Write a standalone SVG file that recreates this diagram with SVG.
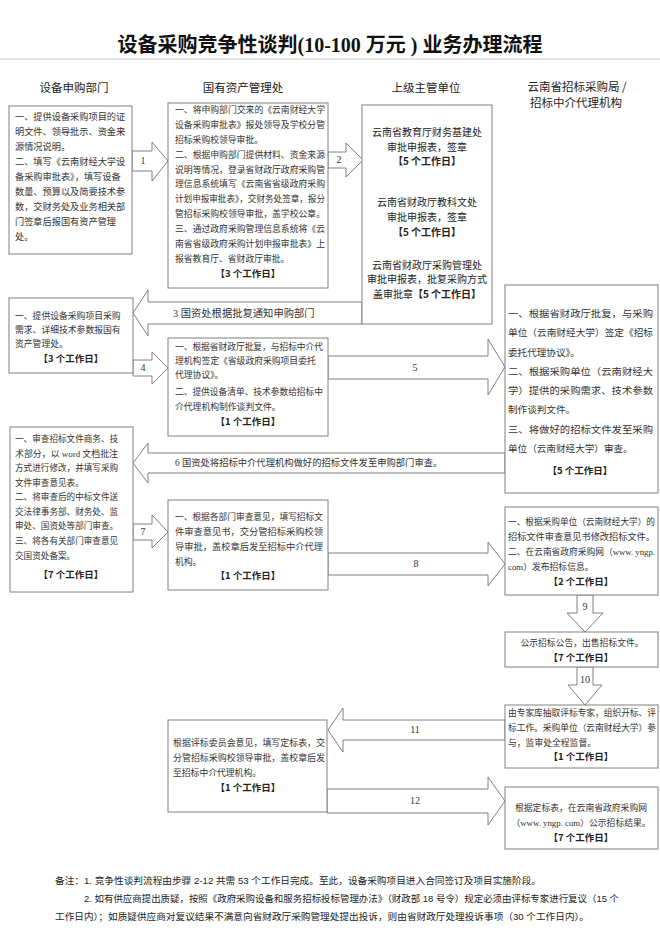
<svg xmlns="http://www.w3.org/2000/svg" width="660" height="943" viewBox="0 0 660 943">
<style>
.box{fill:#fff;stroke:#808080;stroke-width:1}
.arr{fill:#fff;stroke:#808080;stroke-width:1}
.t{font-family:"Liberation Serif","Noto Sans CJK SC",serif;font-size:8.8px;fill:#333}
.tl{font-family:"Liberation Serif","Noto Sans CJK SC",serif;font-size:9.2px;fill:#333}
.t5{font-family:"Liberation Serif","Noto Sans CJK SC",serif;font-size:8.8px;fill:#333}
.t7{font-family:"Liberation Serif","Noto Sans CJK SC",serif;font-size:8.6px;fill:#333}
.tr{font-family:"Liberation Serif","Noto Sans CJK SC",serif;font-size:9.6px;fill:#333}
.lab3{font-family:"Liberation Serif","Noto Sans CJK SC",serif;font-size:10.3px;fill:#333}
.lab6{font-family:"Liberation Serif","Noto Sans CJK SC",serif;font-size:9.3px;fill:#333}
.d{font-family:"Noto Sans CJK SC",sans-serif;font-weight:bold;font-size:9.5px;fill:#222;text-anchor:middle}
.h{font-family:"Noto Sans CJK SC",sans-serif;font-size:11.5px;fill:#222;text-anchor:middle}
.s{font-family:"Noto Sans CJK SC",sans-serif;font-size:10px;fill:#222;text-anchor:middle}
.sb{font-family:"Noto Sans CJK SC",sans-serif;font-size:10px;font-weight:bold;fill:#222;text-anchor:middle}
.n{font-family:"Liberation Serif","Noto Sans CJK SC",serif;font-size:10px;fill:#333;text-anchor:middle}
.c{text-anchor:middle}
.f{font-family:"Liberation Sans","Noto Sans CJK SC",sans-serif;font-size:9.3px;fill:#222}
</style>

<g id="title">
<text x="330" y="52" text-anchor="middle" font-family="Liberation Serif, Noto Sans CJK SC, serif" font-weight="bold" font-size="20" fill="#111">设备采购竞争性谈判(10-100 万元 ) 业务办理流程</text>
<line x1="0" y1="59" x2="660" y2="59" stroke="#c8c8c8" stroke-width="1"/>
</g>

<g id="headers">
<text class="h" x="74" y="92">设备申购部门</text>
<text class="h" x="243" y="92">国有资产管理处</text>
<text class="h" x="426" y="92">上级主管单位</text>
<text class="h" x="577" y="91">云南省招标采购局 /</text>
<text class="h" x="576" y="107">招标中介代理机构</text>
</g>

<g id="connectors">
<polygon class="arr" points="132,151 152,151 152,142 168,161 152,181 152,171 132,171"/>
<text class="n" x="143" y="164">1</text>
<polygon class="arr" points="328,152 346,152 346,143 363,160 346,177 346,168 328,168"/>
<text class="n" x="339" y="163">2</text>
<polygon class="arr" points="362,302 148,302 148,290 133,313 148,336 148,324 362,324"/>
<text class="lab3" x="173" y="317">3 国资处根据批复通知申购部门</text>
<polygon class="arr" points="133,360 152,360 152,352 168,368 152,384 152,376 133,376"/>
<text class="n" x="143" y="371">4</text>
<polygon class="arr" points="328,356 488,356 488,339 505,367 488,395 488,379 328,379"/>
<text class="n" x="415" y="371">5</text>
<polygon class="arr" points="505,453 148,453 148,443 133,463 148,483 148,473 505,473"/>
<text class="lab6" x="175" y="466">6 国资处将招标中介代理机构做好的招标文件发至申购部门审查。</text>
<polygon class="arr" points="133,524 152,524 152,515 168,532 152,548 152,540 133,540"/>
<text class="n" x="143" y="535">7</text>
<polygon class="arr" points="328,553 488,553 488,542 505,564 488,586 488,575 328,575"/>
<text class="n" x="416" y="567">8</text>
<polygon class="arr" points="577,595 593,595 593,613 603,613 585,632 567,613 577,613"/>
<text class="n" x="585" y="610">9</text>
<polygon class="arr" points="577,667 593,667 593,685 602,685 585,705 568,685 577,685"/>
<text class="n" x="585" y="683">10</text>
<polygon class="arr" points="505,720 343,720 343,708 328,730 343,752 343,740 505,740"/>
<text class="n" x="415" y="733">11</text>
<polygon class="arr" points="327,789 488,789 488,777 505,801 488,825 488,813 327,813"/>
<text class="n" x="415" y="804">12</text>
</g>

<g id="n1">
<rect class="box" x="9" y="106" width="123" height="148"/>
<text class="tl" x="15" y="120">一、提供设备采购项目的证</text>
<text class="tl" x="15" y="135">明文件、领导批示、资金来</text>
<text class="tl" x="15" y="150">源情况说明。</text>
<text class="tl" x="15" y="165">二、填写《云南财经大学设</text>
<text class="tl" x="15" y="180">备采购审批表》，填写设备</text>
<text class="tl" x="15" y="195">数量、预算以及简要技术参</text>
<text class="tl" x="15" y="210">数，交财务处及业务相关部</text>
<text class="tl" x="15" y="225">门签章后报国有资产管理</text>
<text class="tl" x="15" y="240">处。</text>
</g>

<g id="n2">
<rect class="box" x="168" y="103" width="160" height="185"/>
<text class="t" x="175" y="113" textLength="150" lengthAdjust="spacingAndGlyphs">一、将申购部门交来的《云南财经大学</text>
<text class="t" x="175" y="128" textLength="150" lengthAdjust="spacingAndGlyphs">设备采购审批表》报处领导及学校分管</text>
<text class="t" x="175" y="143">招标采购校领导审批。</text>
<text class="t" x="175" y="158" textLength="150" lengthAdjust="spacingAndGlyphs">二、根据申购部门提供材料、资金来源</text>
<text class="t" x="175" y="173" textLength="150" lengthAdjust="spacingAndGlyphs">说明等情况，登录省财政厅政府采购管</text>
<text class="t" x="175" y="187" textLength="150" lengthAdjust="spacingAndGlyphs">理信息系统填写《云南省省级政府采购</text>
<text class="t" x="175" y="202" textLength="150" lengthAdjust="spacingAndGlyphs">计划申报审批表》，交财务处签章，报分</text>
<text class="t" x="175" y="217" textLength="150" lengthAdjust="spacingAndGlyphs">管招标采购校领导审批，盖学校公章。</text>
<text class="t" x="175" y="232" textLength="150" lengthAdjust="spacingAndGlyphs">三、通过政府采购管理信息系统将《云</text>
<text class="t" x="175" y="247" textLength="150" lengthAdjust="spacingAndGlyphs">南省省级政府采购计划申报审批表》上</text>
<text class="t" x="175" y="262">报省教育厅、省财政厅审批。</text>
<text class="d" x="248" y="277">【3 个工作日】</text>
</g>

<g id="n3">
<rect class="box" x="362" y="105" width="130" height="219"/>
<text class="s" x="427" y="136">云南省教育厅财务基建处</text>
<text class="s" x="427" y="151">审批申报表，签章</text>
<text class="sb" x="427" y="165">【5 个工作日】</text>
<text class="s" x="427" y="206">云南省财政厅教科文处</text>
<text class="s" x="427" y="221">审批申报表，签章</text>
<text class="sb" x="427" y="236">【5 个工作日】</text>
<text class="s" x="427" y="269">云南省财政厅采购管理处</text>
<text class="s" x="427" y="283">审批申报表，批复采购方式</text>
<text class="s" x="427" y="298"><tspan>盖审批章</tspan><tspan font-weight="bold">【5 个工作日】</tspan></text>
</g>

<g id="n4">
<rect class="box" x="505" y="285" width="153" height="208"/>
<text class="tr" x="508" y="317" textLength="145" lengthAdjust="spacingAndGlyphs">一、根据省财政厅批复，与采购</text>
<text class="tr" x="508" y="336" textLength="145" lengthAdjust="spacingAndGlyphs">单位（云南财经大学）签定《招标</text>
<text class="tr" x="508" y="356">委托代理协议》。</text>
<text class="tr" x="508" y="375" textLength="145" lengthAdjust="spacingAndGlyphs">二、根据采购单位（云南财经大</text>
<text class="tr" x="508" y="394" textLength="145" lengthAdjust="spacingAndGlyphs">学）提供的采购需求、技术参数</text>
<text class="tr" x="508" y="413">制作谈判文件。</text>
<text class="tr" x="508" y="433" textLength="145" lengthAdjust="spacingAndGlyphs">三、将做好的招标文件发至采购</text>
<text class="tr" x="508" y="452">单位（云南财经大学）审查。</text>
<text class="d" x="580" y="474">【5 个工作日】</text>
</g>

<g id="n5">
<rect class="box" x="9" y="298" width="124" height="75"/>
<text class="t5" x="15" y="319">一、提供设备采购项目采购</text>
<text class="t5" x="15" y="333">需求、详细技术参数报国有</text>
<text class="t5" x="15" y="347">资产管理处。</text>
<text class="d" x="71" y="362">【3 个工作日】</text>
</g>

<g id="n6">
<rect class="box" x="168" y="338" width="160" height="98"/>
<text class="t" x="175" y="350" textLength="148" lengthAdjust="spacingAndGlyphs">一、根据省财政厅批复，与招标中介代</text>
<text class="t" x="175" y="364">理机构签定《省级政府采购项目委托</text>
<text class="t" x="175" y="378">代理协议》。</text>
<text class="t" x="175" y="395" textLength="148" lengthAdjust="spacingAndGlyphs">二、提供设备清单、技术参数给招标中</text>
<text class="t" x="175" y="410">介代理机构制作谈判文件。</text>
<text class="d" x="248" y="425">【1 个工作日】</text>
</g>

<g id="n7">
<rect class="box" x="10" y="427" width="123" height="165"/>
<text class="t7" x="15" y="442">一、审查招标文件商务、技</text>
<text class="t7" x="15" y="457" textLength="103" lengthAdjust="spacingAndGlyphs">术部分，以 word 文档批注</text>
<text class="t7" x="15" y="471">方式进行修改，并填写采购</text>
<text class="t7" x="15" y="486">文件审查意见表。</text>
<text class="t7" x="15" y="500">二、将审查后的中标文件送</text>
<text class="t7" x="15" y="515">交法律事务部、财务处、监</text>
<text class="t7" x="15" y="529">审处、国资处等部门审查。</text>
<text class="t7" x="15" y="544">三、将各有关部门审查意见</text>
<text class="t7" x="15" y="559">交国资处备案。</text>
<text class="d" x="71" y="578">【7 个工作日】</text>
</g>

<g id="n8">
<rect class="box" x="168" y="500" width="160" height="90"/>
<text class="t" x="175" y="520" textLength="148" lengthAdjust="spacingAndGlyphs">一、根据各部门审查意见，填写招标文</text>
<text class="t" x="175" y="535" textLength="148" lengthAdjust="spacingAndGlyphs">件审查意见书，交分管招标采购校领</text>
<text class="t" x="175" y="550" textLength="148" lengthAdjust="spacingAndGlyphs">导审批，盖校章后发至招标中介代理</text>
<text class="t" x="175" y="565">机构。</text>
<text class="d" x="248" y="579">【1 个工作日】</text>
</g>

<g id="n9">
<rect class="box" x="505" y="507" width="153" height="88"/>
<text class="t" x="508" y="525" textLength="147" lengthAdjust="spacingAndGlyphs">一、根据采购单位（云南财经大学）的</text>
<text class="t" x="508" y="540" textLength="147" lengthAdjust="spacingAndGlyphs">招标文件审查意见书修改招标文件。</text>
<text class="t" x="508" y="555" textLength="147" lengthAdjust="spacingAndGlyphs">二、在云南省政府采购网（www. yngp.</text>
<text class="t" x="508" y="570">com）发布招标信息。</text>
<text class="d" x="581" y="585">【2 个工作日】</text>
</g>

<g id="n10">
<rect class="box" x="505" y="632" width="153" height="35"/>
<text class="t c" x="582" y="646">公示招标公告，出售招标文件。</text>
<text class="d" x="581" y="661">【7 个工作日】</text>
</g>

<g id="n11">
<rect class="box" x="505" y="705" width="153" height="63"/>
<text class="t" x="508" y="716" textLength="148" lengthAdjust="spacingAndGlyphs">由专家库抽取评标专家，组织开标、评</text>
<text class="t" x="508" y="731" textLength="148" lengthAdjust="spacingAndGlyphs">标工作。采购单位（云南财经大学）参</text>
<text class="t" x="508" y="746">与，监审处全程监督。</text>
<text class="d" x="581" y="760">【1 个工作日】</text>
</g>

<g id="n12">
<rect class="box" x="168" y="720" width="159" height="92"/>
<text class="t" x="173" y="746" textLength="152" lengthAdjust="spacingAndGlyphs">根据评标委员会意见，填写定标表，交</text>
<text class="t" x="173" y="761" textLength="152" lengthAdjust="spacingAndGlyphs">分管招标采购校领导审批，盖校章后发</text>
<text class="t" x="173" y="776">至招标中介代理机构。</text>
<text class="d" x="248" y="791">【1 个工作日】</text>
</g>

<g id="n13">
<rect class="box" x="505" y="787" width="153" height="62"/>
<text class="t c" x="581" y="811">根据定标表，在云南省政府采购网</text>
<text class="t c" x="581" y="826">（www. yngp. com）公示招标结果。</text>
<text class="d" x="581" y="841">【7 个工作日】</text>
</g>

<g id="notes">
<text class="f" x="55" y="884" textLength="486" lengthAdjust="spacingAndGlyphs">备注：1. 竞争性谈判流程由步骤 2-12 共需 53 个工作日完成。至此，设备采购项目进入合同签订及项目实施阶段。</text>
<text class="f" x="84" y="902" textLength="535" lengthAdjust="spacingAndGlyphs">2. 如有供应商提出质疑，按照《政府采购设备和服务招标投标管理办法》（财政部 18 号令）规定必须由评标专家进行复议（15 个</text>
<text class="f" x="55" y="920" textLength="534" lengthAdjust="spacingAndGlyphs">工作日内）；如质疑供应商对复议结果不满意向省财政厅采购管理处提出投诉，则由省财政厅处理投诉事项（30 个工作日内）。</text>
</g>
</svg>
